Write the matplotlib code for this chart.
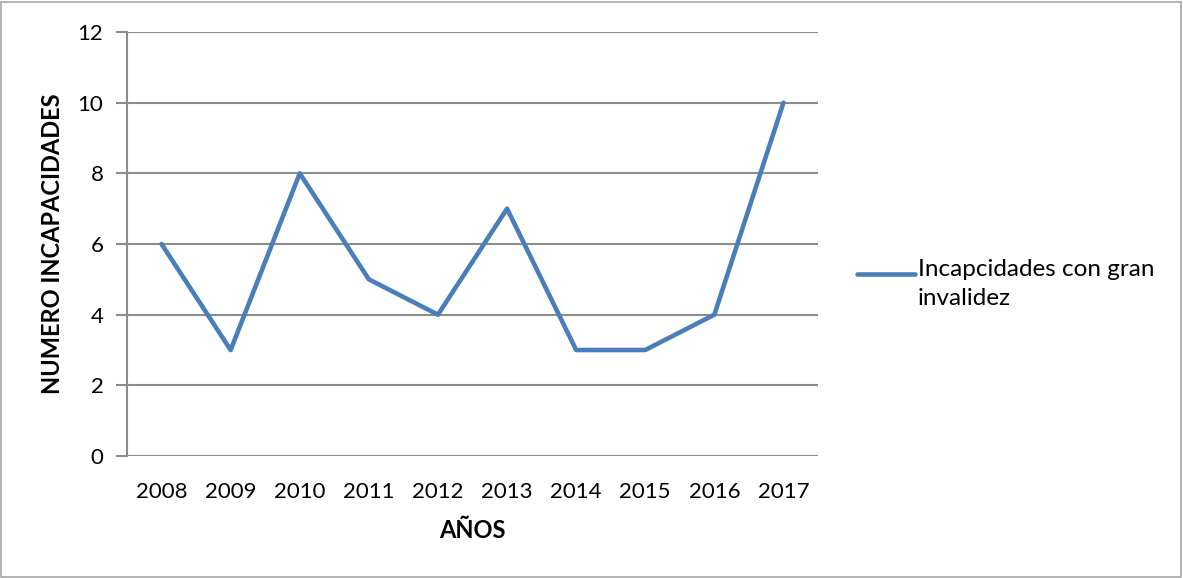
import matplotlib
matplotlib.use("Agg")
from matplotlib import pyplot as plt
from matplotlib.patches import Rectangle
from matplotlib.lines import Line2D

# Data
years = ["2008", "2009", "2010", "2011", "2012", "2013", "2014", "2015", "2016", "2017"]
incapacidades = [6, 3, 8, 5, 4, 7, 3, 3, 4, 10]
yticks = [0, 2, 4, 6, 8, 10, 12]
serie_label = "Incapcidades con gran\ninvalidez"

plt.rcParams['font.family'] = ['Lato', 'DejaVu Sans']

fig = plt.figure(figsize=(11.83, 5.78), dpi=100)
W, H = 1183, 578
ax = fig.add_axes([127 / W, 122 / H, (818 - 127) / W, (456 - 32) / H])

grid_col = '#8c8c8c'
line_col = '#4a7ebb'
x = list(range(len(years)))
ax.plot(x, incapacidades, color=line_col, linewidth=3.3, solid_capstyle='round', zorder=3)

ax.set_xlim(-0.5, len(years) - 0.5)
ax.set_ylim(0, 12)
ax.set_xticks(x)
ax.set_xticklabels(years)
ax.set_yticks(yticks)
ax.yaxis.grid(True, color=grid_col, linewidth=1.5)
ax.set_axisbelow(True)
for s in ['top', 'right', 'bottom']:
    ax.spines[s].set_visible(False)
ax.spines['left'].set_color(grid_col)
ax.spines['left'].set_linewidth(1.5)
ax.tick_params(axis='y', length=8, width=1.5, color=grid_col, labelsize=16, pad=9,
               labelcolor='#000000')
ax.tick_params(axis='x', length=0, labelsize=16, pad=19, labelcolor='#000000')

ax.set_ylabel('NUMERO INCAPACIDADES', fontsize=17, fontweight='bold', labelpad=10)
ax.set_xlabel('AÑOS', fontsize=17, fontweight='bold', labelpad=12)

# legend drawn by hand, Excel style (sample level with first text line)
fig.add_artist(Line2D([857 / W, 915 / W], [1 - 274 / H, 1 - 274 / H], transform=fig.transFigure,
                      color=line_col, linewidth=3.3, solid_capstyle='round'))
fig.text(918 / W, 1 - 259 / H, serie_label, fontsize=17.5, va='top', ha='left',
         linespacing=1.45)

# outer chart border
fig.patches.append(Rectangle((0.001, 0.002), 0.997, 0.994, transform=fig.transFigure,
                             fill=False, edgecolor='#a6a6a6', linewidth=1.2))

fig.savefig('out.png', dpi=100)
